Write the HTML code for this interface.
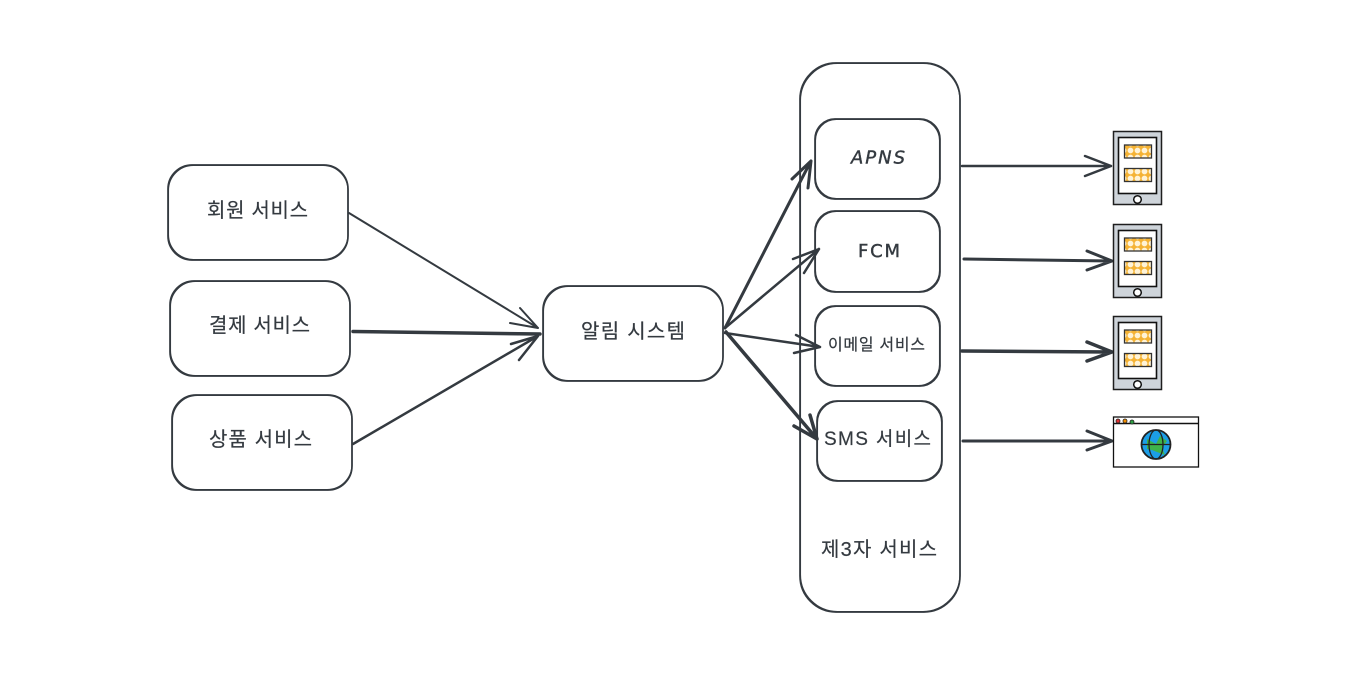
<!DOCTYPE html>
<html>
<head>
<meta charset="utf-8">
<style>
html,body{margin:0;padding:0;background:#fff;width:1360px;height:682px;overflow:hidden}
svg{display:block}
text{font-family:"Liberation Sans","Noto Sans CJK KR",sans-serif;fill:#343a40;stroke:#343a40;stroke-width:.2;text-anchor:middle;font-size:20px}
.b{fill:#fff;stroke:#343a40;stroke-width:1.7}
.o{fill:none;stroke:#343a40;stroke-width:1.3}
.l{fill:none;stroke:#343a40;stroke-linecap:round;stroke-linejoin:round}
</style>
</head>
<body>
<svg width="1360" height="682" viewBox="0 0 1360 682" xmlns="http://www.w3.org/2000/svg">
<defs>
<pattern id="p" width="7" height="7" patternUnits="userSpaceOnUse">
<rect width="7" height="7" fill="#f5b335"/>
<circle cx="3.5" cy="3.5" r="2.9" fill="#fff3d6"/>
</pattern>
<g id="phone">
<rect x="1113.5" y="131.5" width="48" height="73" fill="#ced4da" stroke="#1e1e1e" stroke-width="1.5"/>
<rect x="1118.5" y="137.5" width="38" height="56" fill="#fff" stroke="#111" stroke-width="1.6"/>
<rect x="1124.5" y="145" width="27" height="13" fill="url(#p)" stroke="#333" stroke-width="1.3"/>
<rect x="1124.5" y="168.5" width="27" height="13" fill="url(#p)" stroke="#333" stroke-width="1.3"/>
<circle cx="1137.5" cy="199.5" r="3.8" fill="#fff" stroke="#111" stroke-width="1.5"/>
</g>
</defs>
<rect width="1360" height="682" fill="#fff"/>

<rect class="b" x="168" y="165" width="180" height="95" rx="24"/>
<rect class="o" x="168.4" y="165.4" width="179.6" height="94.2" rx="25"/>
<rect class="b" x="170" y="281" width="180" height="95" rx="24"/>
<rect class="o" x="170.4" y="281.4" width="179.6" height="94.2" rx="25"/>
<rect class="b" x="172" y="395" width="180" height="95" rx="24"/>
<rect class="o" x="172.4" y="395.4" width="179.6" height="94.2" rx="25"/>
<rect class="b" x="543" y="286" width="180" height="95" rx="24"/>
<rect class="o" x="543.4" y="286.4" width="179.6" height="94.2" rx="25"/>
<rect class="b" x="800" y="63" width="160" height="549" rx="36"/>
<rect class="o" x="800.4" y="63.4" width="159.6" height="548.2" rx="37"/>
<rect class="b" x="815" y="119" width="125" height="80" rx="20"/>
<rect class="o" x="815.4" y="119.4" width="124.2" height="79.2" rx="21"/>
<rect class="b" x="815" y="211" width="125" height="81" rx="20"/>
<rect class="o" x="815.4" y="211.4" width="124.2" height="80.2" rx="21"/>
<rect class="b" x="815" y="306" width="125" height="80" rx="20"/>
<rect class="o" x="815.4" y="306.4" width="124.2" height="79.2" rx="21"/>
<rect class="b" x="817" y="401" width="125" height="80" rx="20"/>
<rect class="o" x="817.4" y="401.4" width="124.2" height="79.2" rx="21"/>

<text x="257.5" y="217" textLength="101" lengthAdjust="spacing">회원 서비스</text>
<text x="259.5" y="332" textLength="101" lengthAdjust="spacing">결제 서비스</text>
<text x="260.5" y="446" textLength="103" lengthAdjust="spacing">상품 서비스</text>
<text x="633" y="338" textLength="104" lengthAdjust="spacing">알림 시스템</text>
<text x="878" y="163.5" style="font-family:'DejaVu Sans',sans-serif;font-style:oblique;font-size:18px;stroke-width:.4" textLength="54" lengthAdjust="spacing">APNS</text>
<text x="879" y="257" style="font-family:'DejaVu Sans',sans-serif;font-size:18px;stroke-width:.4" textLength="42" lengthAdjust="spacing">FCM</text>
<text x="876.5" y="350" style="font-size:16px" textLength="97" lengthAdjust="spacing">이메일 서비스</text>
<text x="877.5" y="445" style="font-size:19px" textLength="107" lengthAdjust="spacing">SMS 서비스</text>
<text x="879" y="556" textLength="116" lengthAdjust="spacing">제3자 서비스</text>

<!-- left arrows -->
<path class="l" stroke-width="2" d="M349 213 L538 328 M520 308 L538 328 M510 323 L538 328"/>
<path class="l" stroke-width="3.5" d="M353 331.5 L540 334"/>
<path class="l" stroke-width="2.5" d="M353 444 L538 336 M511 344 L538 336 M519 360 L538 336"/>

<!-- fan out -->
<path class="l" stroke-width="3" d="M725 328 C750 280 780 220 811 161 M792 179 L811 161 M808 188 L811 161"/>
<path class="l" stroke-width="2.5" d="M725 328 L819 249 M793 259 L819 249 M804 273 L819 249"/>
<path class="l" stroke-width="2.5" d="M725 333 L820 347 M796 335 L820 347 M794 353 L820 347"/>
<path class="l" stroke-width="3.5" d="M726 332 L817 439 M794 426 L817 439 M810 415 L817 439"/>

<!-- right arrows -->
<path class="l" stroke-width="2.5" d="M962 166 L1111 166 M1085 156 L1111 166 M1085 176 L1111 166"/>
<path class="l" stroke-width="3" d="M964 259 L1112 261 M1087 251 L1112 261 M1087 270 L1112 261"/>
<path class="l" stroke-width="3.5" d="M962 351 L1112 352 M1087 342 L1112 352 M1087 361 L1112 352"/>
<path class="l" stroke-width="3" d="M963 441 L1112 441 M1087 431 L1112 441 M1087 450 L1112 441"/>

<use href="#phone"/>
<use href="#phone" y="93"/>
<use href="#phone" y="185"/>

<!-- browser -->
<rect x="1113.5" y="417" width="85" height="50" fill="#fff" stroke="#111" stroke-width="1.3"/>
<path d="M1113 423.5 H1199" stroke="#111" stroke-width="1.6"/>
<circle cx="1118" cy="421" r="2" fill="#e03131" stroke="#222" stroke-width=".8"/>
<circle cx="1125" cy="421" r="2" fill="#f08c00" stroke="#222" stroke-width=".8"/>
<circle cx="1132" cy="422" r="2" fill="#2f9e44" stroke="#222" stroke-width=".8"/>
<circle cx="1156" cy="444.5" r="14.5" fill="#1c9ee6" stroke="#222" stroke-width="1.8"/>
<path d="M1147 439 L1156 444 L1160 436 L1167 441 L1162 448 L1165 455 L1157 452 L1152 450 L1147 449 Z" fill="#3fb34a"/>
<path d="M1141 444.5 H1171" stroke="#222" stroke-width="1.3" fill="none"/>
<ellipse cx="1156" cy="444.5" rx="7" ry="14.5" fill="none" stroke="#222" stroke-width="1.3"/>
</svg>
</body>
</html>
